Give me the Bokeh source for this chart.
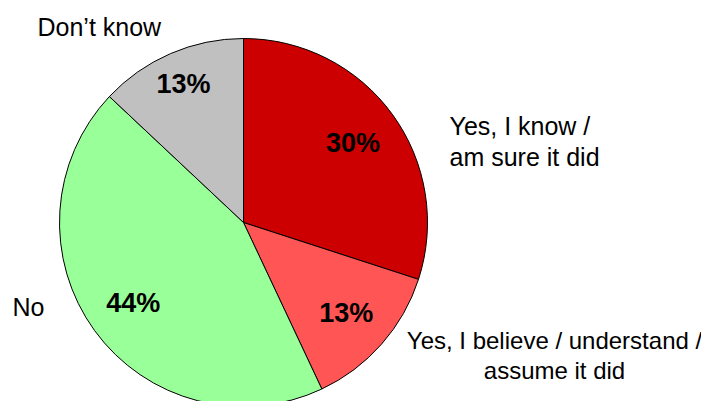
import numpy as np
from bokeh.plotting import figure
from bokeh.models import ColumnDataSource, Range1d
from bokeh.core.properties import value
from bokeh.embed import file_html
from bokeh.resources import INLINE

# ---- data ----
categories = ["Yes, I know / am sure it did", "Yes, I believe / understand / assume it did", "No", "Don\u2019t know"]
shares = [30, 13, 44, 13]
pct_labels = ["30%", "13%", "44%", "13%"]
colors = ["#CC0000", "#FF5555", "#99FF99", "#C0C0C0"]

W, H = 701, 401
cx, cy, R = 243, H - 222, 184
label_r = [0.735, 0.745, 0.74, 0.82]

vals = np.array(shares, dtype=float)
frac = vals / vals.sum()
cum = np.concatenate([[0], np.cumsum(frac)])
start = np.pi / 2 - 2 * np.pi * cum[:-1]
end = np.pi / 2 - 2 * np.pi * cum[1:]
mid = (start + end) / 2

src = ColumnDataSource(dict(start=start, end=end, color=colors, cat=categories))

p = figure(width=W, height=H, output_backend="svg", toolbar_location=None,
           x_range=Range1d(0, W), y_range=Range1d(0, H), min_border=0)
p.axis.visible = False
p.grid.visible = False
p.outline_line_color = None
p.background_fill_color = "white"

p.wedge(x=cx, y=cy, radius=R, start_angle="end", end_angle="start",
        fill_color="color", line_color="black", line_width=1, source=src)

lx = [cx + R * r * np.cos(a) for r, a in zip(label_r, mid)]
ly = [cy + R * r * np.sin(a) for r, a in zip(label_r, mid)]
p.text(x=lx, y=ly, text=pct_labels, text_font=value("Liberation Sans"),
       text_font_size="27px", text_font_style="bold", text_color="black",
       text_align="center", text_baseline="middle")

# outside category labels (split into lines), anchored by layout positions
left_lines = ["Don\u2019t know", "Yes, I know /", "am sure it did", "No"]
left_x = [37, 449, 449, 12]
left_y = [H - 26, H - 125, H - 156, H - 306]
p.text(x=left_x, y=left_y, text=left_lines, text_font=value("Liberation Sans"),
       text_font_size="25px", text_color="black", text_align="left",
       text_baseline="alphabetic")

ctr_lines = ["Yes, I believe / understand /", "assume it did"]
p.text(x=[554, 554], y=[H - 340, H - 370], text=ctr_lines,
       text_font=value("Liberation Sans"), text_font_size="24px",
       text_color="black", text_align="center", text_baseline="alphabetic")

open("out.html", "w").write(file_html(p, INLINE))
